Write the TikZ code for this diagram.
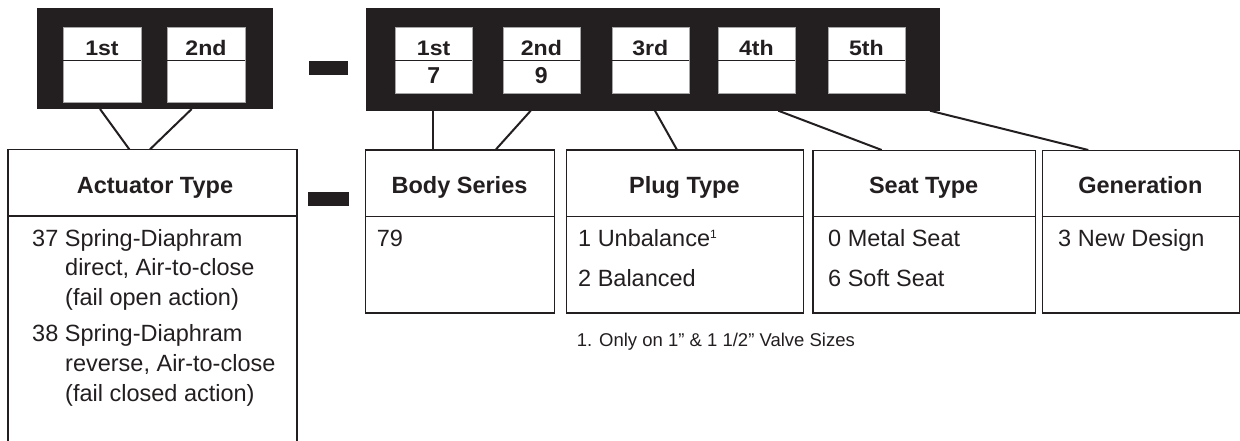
\documentclass[tikz,border=0pt]{standalone}
\usepackage{fontspec}
\setmainfont{Liberation Sans}
\definecolor{ink}{HTML}{231F20}
\newcommand{\widelab}[1]{\scalebox{1.1}[1]{#1}}
\begin{document}
\begin{tikzpicture}[x=1pt,y=-1pt,
  blk/.style={fill=ink, draw=none, inner sep=0, anchor=north west},
  slot/.style={fill=white, draw=gray!70, line width=0.6pt, inner sep=0, anchor=north west},
  sep/.style={draw=ink, line width=1.1pt},
  box/.style={draw=ink, line width=1.4pt, inner sep=0, anchor=north west},
  conn/.style={draw=ink, line width=2pt},
  lab/.style={font=\fontsize{21}{24}\selectfont\bfseries, text=ink, anchor=base, inner sep=0},
  digit/.style={font=\fontsize{23}{28}\selectfont\bfseries, text=ink, anchor=base, inner sep=0},
  hd/.style={font=\fontsize{23.5}{28}\selectfont\bfseries, text=ink, anchor=base, inner sep=0},
  txt/.style={font=\fontsize{23.5}{28}\selectfont, text=ink, anchor=base west, inner sep=0},
  note/.style={font=\fontsize{18.5}{22}\selectfont, text=ink, anchor=base west, inner sep=0},
  minusbar/.style={fill=ink, draw=none, inner sep=0, anchor=north west}
]
\useasboundingbox (0,0) rectangle (1240,440);
\fill[white] (0,0) rectangle (1240,440);

% ---- top code boxes ----
\node[blk, minimum width=236pt, minimum height=101pt] (codeA) at (37,8) {};
\node[blk, minimum width=574pt, minimum height=102.7pt] (codeB) at (366,8) {};
\node[minusbar, minimum width=39pt, minimum height=14pt] (dashT) at (309,61) {};

% slots of first box
\foreach \n/\x/\t in {a1/63/1st, a2/167/2nd}{
  \node[slot, minimum width=78pt, minimum height=75pt] (\n) at (\x,27) {};
  \draw[sep] (\x,60.7) -- ++(78,0);
  \node[lab] (\n t) at (\x+39,55) {\widelab{\t}};
}
% slots of second box
\foreach \n/\x/\t/\d in {b1/395/1st/7, b2/502.7/2nd/9, b3/611.7/3rd/, b4/717.7/4th/, b5/827.7/5th/}{
  \node[slot, minimum width=77.3pt, minimum height=66pt] (\n) at (\x,26.7) {};
  \draw[sep] (\x,60.7) -- ++(77.3,0);
  \node[lab] (\n t) at (\x+38.65,55) {\widelab{\t}};
  \node[digit] (\n d) at (\x+38.65,83.3) {\d};
}

% ---- lower boxes ----
\coordinate (actTL) at (8,149.3);
\coordinate (actTR) at (297,149.3);
\draw[draw=ink, line width=1.4pt] (8,441) -- (actTL) -- (actTR) -- (297,441);
\draw[draw=ink, line width=1.4pt] (8,216) -- (297,216);
\node[hd] (actH) at (155,193) {Actuator Type};
\node[minusbar, minimum width=41pt, minimum height=14pt] (dashB) at (308,192) {};

\node[box, minimum width=189pt, minimum height=163pt] (body) at (365,149.3) {};
\draw[draw=ink, line width=1.4pt] (365,216.7) -- (554,216.7);
\node[hd] (bodyH) at (459.5,193) {Body Series};

\node[box, minimum width=236.7pt, minimum height=163pt] (plug) at (566,149.3) {};
\draw[draw=ink, line width=1.4pt] (566,216.7) -- (802.7,216.7);
\node[hd] (plugH) at (684.35,193) {Plug Type};

\node[box, minimum width=222.7pt, minimum height=162.3pt] (seat) at (812.3,150) {};
\draw[draw=ink, line width=1.4pt] (812.3,216.7) -- (1035,216.7);
\node[hd] (seatH) at (923.65,193) {Seat Type};

\node[box, minimum width=197.3pt, minimum height=162.3pt] (gen) at (1041.7,150) {};
\draw[draw=ink, line width=1.4pt] (1041.7,216.7) -- (1239,216.7);
\node[hd] (genH) at (1140.35,193) {Generation};

% ---- entries ----
\node[txt] (e1) at (32,246) {37 Spring-Diaphram};
\node[txt] (e2) at (65,275.5) {direct, Air-to-close};
\node[txt] (e3) at (65,305) {(fail open action)};
\node[txt] (e4) at (32,341.7) {38 Spring-Diaphram};
\node[txt] (e5) at (65,371.3) {reverse, Air-to-close};
\node[txt] (e6) at (65,401) {(fail closed action)};

\node[txt] (bo1) at (376.7,246) {79};
\node[txt] (pl1) at (578,246) {1 Unbalance\raisebox{8pt}{\fontsize{12}{14}\selectfont 1}};
\node[txt] (pl2) at (578,286.7) {2 Balanced};
\node[txt] (se1) at (828,246) {0 Metal Seat};
\node[txt] (se2) at (828,286.7) {6 Soft Seat};
\node[txt] (ge1) at (1058,246) {3 New Design};

\node[note] (fn) at (576.7,346.5) {1. Only on 1” \& 1 1/2” Valve Sizes};

% ---- connectors ----
\coordinate (cA1) at (100,109);   \coordinate (pA1) at (129.3,149.3);
\coordinate (cA2) at (191.7,109); \coordinate (pA2) at (150,149.3);
\coordinate (cB1) at (433.3,110.7); \coordinate (pB1) at (433.3,149.3);
\coordinate (cB2) at (530.7,110.7); \coordinate (pB2) at (496,149.3);
\coordinate (cB3) at (655,110.7); \coordinate (pB3) at (676.7,149.3);
\coordinate (cB4) at (778.3,110.7); \coordinate (pB4) at (881.7,150);
\coordinate (cB5) at (930,110.7); \coordinate (pB5) at (1088.3,150);
\foreach \i in {A1,A2,B1,B2,B3,B4,B5}{ \draw[conn] (c\i) -- (p\i); }
\end{tikzpicture}
\end{document}
